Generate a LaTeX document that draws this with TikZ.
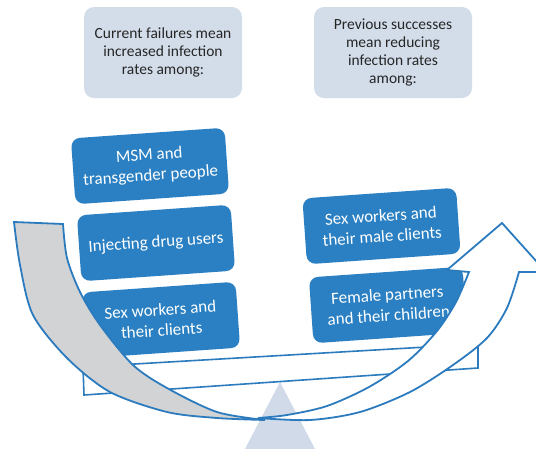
\documentclass[tikz,border=0pt]{standalone}
\usepackage{fontspec}
\setmainfont{Carlito}
\definecolor{topfill}{HTML}{D3DDEA}
\definecolor{trifill}{HTML}{D0DAE8}
\definecolor{boxblue}{HTML}{2A80C2}
\definecolor{lineblue}{HTML}{2B7BBE}
\definecolor{grayfill}{HTML}{D1D3D5}
\definecolor{textdark}{HTML}{262626}
\begin{document}
\begin{tikzpicture}[x=1pt,y=-1pt,
  topbox/.style={fill=topfill, rounded corners=10pt, minimum width=158pt, minimum height=91pt, align=center, font=\fontsize{15.5}{18}\selectfont, text=textdark, inner sep=2pt},
  bluebox/.style={fill=boxblue, rounded corners=9pt, minimum width=154pt, minimum height=66pt, align=center, font=\fontsize{17}{20.5}\selectfont, text=white, rotate=4, inner sep=2pt},
  outline/.style={draw=lineblue, line width=1.8pt, line join=miter}
]
\clip (0,0) rectangle (536,448);
\fill[white] (0,0) rectangle (536,448);

% fulcrum
\fill[trifill] (280,382) -- (326,470) -- (234,470) -- cycle;

% beam
\draw[outline, line width=1.6pt, fill=white] (83,367) -- (478,344) -- (478,368) -- (84,395) -- cycle;

% header boxes
\node[topbox] (hl) at (163,52.5) {Current failures mean\\increased infection\\rates among:};
\node[topbox] (hr) at (393,52.5) {Previous successes\\mean reducing\\infection rates\\among:};

% left stack
\node[bluebox] (l1) at (150,166) {MSM and\\transgender people};
\node[bluebox] (l2) at (156,243) {Injecting drug users};
\node[bluebox] (l3) at (161,320) {Sex workers and\\their clients};

% right stack
\node[bluebox] (r1) at (381.5,226) {Sex workers and\\their male clients};
\node[bluebox] (r2) at (388,305) {Female partners\\and their children};

% grey downward arrow
\draw[outline, fill=grayfill] (14,222) -- (63,224)
  -- plot[smooth] coordinates {(63,224) (67,258) (80,292) (100,325) (133,365) (167,388) (217,412) (265,420)}
  -- plot[smooth] coordinates {(265,420) (217,418) (167,412) (110,392) (67,358) (33,315) (20,265) (14,222)}
  -- cycle;

% white upward arrow
\draw[outline, fill=white] plot[smooth] coordinates {(258,418) (287,415) (327,406) (369,387) (408,361) (437,331) (456,302) (469,272)}
  -- (447,270) -- (502,223) -- (546,272) -- (519,272)
  -- plot[smooth] coordinates {(519,272) (507,308) (487,338) (453,365) (410,392) (360,412) (310,420) (258,418)}
  -- cycle;
\end{tikzpicture}
\end{document}
